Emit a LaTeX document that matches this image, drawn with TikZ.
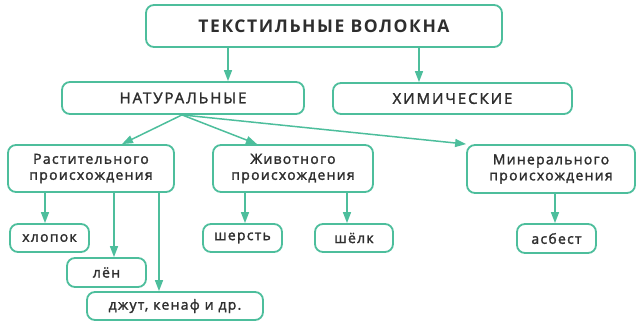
\documentclass[tikz,border=0pt]{standalone}
\usepackage{fontspec}
\setmainfont{Open Sans}
\newfontfamily\medfont[LetterSpace=9, FakeBold=1.8]{Open Sans}
\newfontfamily\capfont[LetterSpace=13, FakeBold=1.8]{Open Sans}
\newfontfamily\titfont[LetterSpace=9]{Open Sans}
\usetikzlibrary{arrows.meta}
\definecolor{tealc}{HTML}{4DBE9C}
\definecolor{txtc}{HTML}{2E2E2E}
\tikzset{
  box/.style={draw=tealc, line width=1.8pt, rounded corners=8pt, fill=white, text=txtc, inner sep=0pt, align=center},
  conn/.style={draw=tealc, line width=1.5pt, -{Triangle[length=11pt,width=8pt]}},
  lbl/.style={font=\medfont\fontsize{14}{16}\selectfont},
}
\begin{document}
\begin{tikzpicture}[x=1pt,y=-1pt]
\useasboundingbox (0,0) rectangle (643,330);
\node[box, minimum width=356pt, minimum height=42pt, font=\titfont\bfseries\fontsize{17.5}{19}\selectfont] (top) at (324,26) {ТЕКСТИЛЬНЫЕ ВОЛОКНА};
\node[box, minimum width=242pt, minimum height=32pt, font=\capfont\fontsize{15}{16}\selectfont] (nat) at (183,98) {НАТУРАЛЬНЫЕ};
\node[box, minimum width=239pt, minimum height=31pt, font=\capfont\fontsize{15}{16}\selectfont] (chem) at (452.5,98.5) {ХИМИЧЕСКИЕ};
\node[box, lbl, minimum width=166pt, minimum height=47pt] (rast) at (91,168.5) {Растительного\\происхождения};
\node[box, lbl, minimum width=160pt, minimum height=47pt] (zhiv) at (293,168.5) {Животного\\происхождения};
\node[box, lbl, minimum width=168pt, minimum height=48pt] (min) at (551,169) {Минерального\\происхождения};
\node[box, lbl, minimum width=79pt, minimum height=28pt] (hlop) at (49.5,238) {хлопок};
\node[box, lbl, minimum width=79pt, minimum height=29pt] (len) at (106.5,272.5) {лён};
\node[box, lbl, minimum width=176pt, minimum height=28pt] (dzhut) at (175,306) {джут, кенаф и др.};
\node[box, lbl, minimum width=79pt, minimum height=28pt] (sher) at (242.5,238) {шерсть};
\node[box, lbl, minimum width=78pt, minimum height=28pt] (shelk) at (354,238) {шёлк};
\node[box, lbl, minimum width=79pt, minimum height=29pt] (asb) at (556.5,238.5) {асбест};
% connectors
\draw[conn] (top.south -| nat.north) ++(45,0) coordinate (t1) -- (t1 |- nat.north);
\draw[conn] (top.south -| chem.north) ++(-33.5,0) coordinate (t2) -- (t2 |- chem.north);
\coordinate (nb) at ([xshift=-1pt]nat.south);
\draw[conn] (nb) -- ([xshift=31pt]rast.north);
\draw[conn] (nb) -- ([xshift=-36pt]zhiv.north);
\draw[conn] (nb) -- (min.north west);
\draw[conn] ([xshift=-46pt]rast.south) coordinate (r1) -- (r1 |- hlop.north);
\draw[conn] ([xshift=23pt]rast.south) coordinate (r2) -- (r2 |- len.north);
\draw[conn] ([xshift=68pt]rast.south) coordinate (r3) -- (r3 |- dzhut.north);
\draw[conn] ([xshift=-48pt]zhiv.south) coordinate (z1) -- (z1 |- sher.north);
\draw[conn] ([xshift=54pt]zhiv.south) coordinate (z2) -- (z2 |- shelk.north);
\draw[conn] ([xshift=4pt]min.south) coordinate (m1) -- (m1 |- asb.north);
\end{tikzpicture}
\end{document}
